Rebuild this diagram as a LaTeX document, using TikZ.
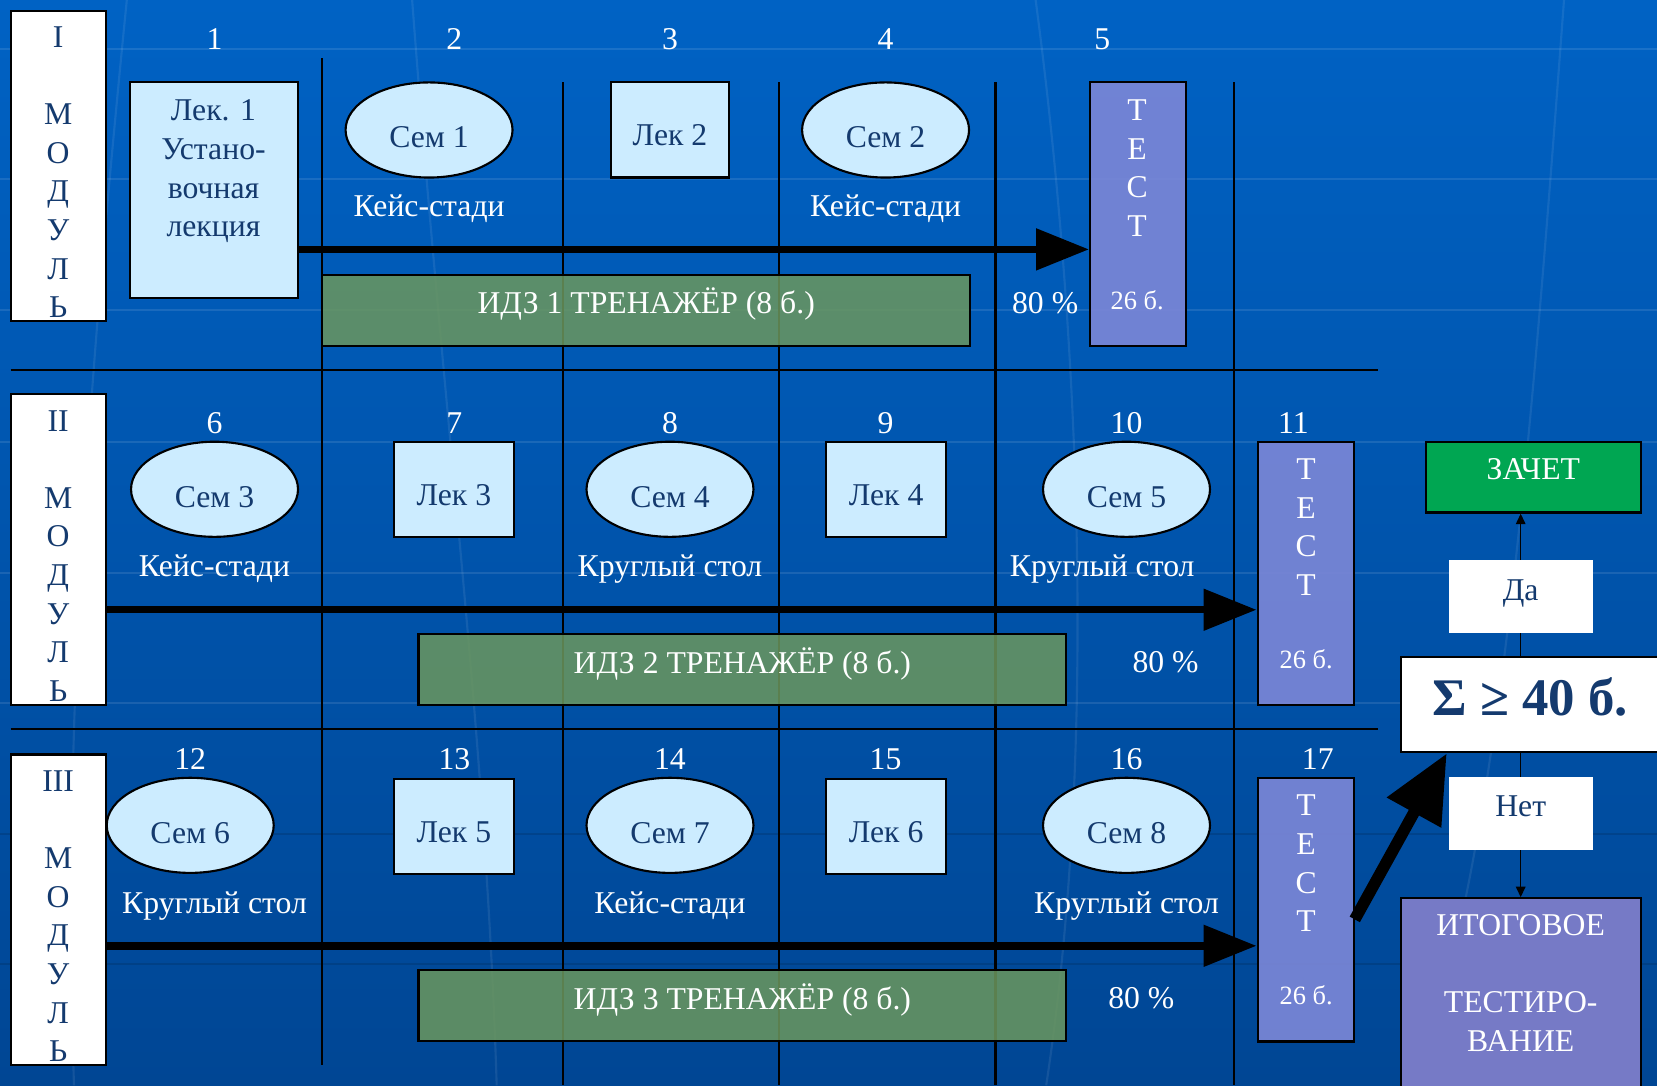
\documentclass[tikz,border=0pt]{standalone}
\usepackage{fontspec}
\setmainfont{Liberation Serif}
\usetikzlibrary{shapes.geometric,arrows.meta,calc}

\definecolor{bgtop}{RGB}{0,98,196}
\definecolor{bgbot}{RGB}{0,70,148}
\definecolor{lightbl}{RGB}{204,236,255}
\definecolor{dkblue}{RGB}{20,58,110}
\definecolor{testcol}{RGB}{122,134,214}
\definecolor{idzgreen}{RGB}{107,151,93}
\definecolor{zachgreen}{RGB}{0,166,82}
\definecolor{itogcol}{RGB}{118,122,198}

\tikzset{
  txt/.style={font=\fontsize{30}{36.5}\selectfont, inner sep=0, align=center},
  wtxt/.style={txt, text=white},
  dtxt/.style={txt, text=dkblue},
  kind/.style={wtxt, text height=20pt, text depth=2pt},
  small/.style={wtxt, font=\fontsize{25}{30}\selectfont},
  modbox/.style={draw=black, fill=white, line width=2, minimum width=90, minimum height=294, inner sep=0},
  lekbox/.style={draw=black, fill=lightbl, line width=2, inner sep=0, minimum width=113, minimum height=90,
    dtxt, text height=30pt, text depth=0pt},
  semell/.style={ellipse, draw=black, fill=lightbl, line width=2, inner sep=0, minimum width=158, minimum height=90,
    dtxt, text height=34pt, text depth=0pt},
  testbox/.style={draw=black, fill=testcol, fill opacity=0.92, line width=2, minimum width=91, minimum height=249, inner sep=0},
  idzbox/.style={draw=black, fill=idzgreen, fill opacity=0.85, text opacity=1, line width=2, minimum width=613, minimum height=67,
    wtxt, text height=13pt, text depth=6pt},
  whitebox/.style={fill=white, minimum width=136, minimum height=69, inner sep=0, dtxt, text height=7pt, text depth=0pt},
  sep/.style={draw=black, line width=2},
  bigarrow/.style={line width=7, -{Triangle[length=50pt,width=38pt]}},
  smallarrow/.style={line width=1.5, -{Triangle[length=10pt,width=9pt]}},
}

\begin{document}
\begin{tikzpicture}[x=1pt, y=-1pt]
\useasboundingbox (0,0) rectangle (1568,1027);
\fill [top color=bgtop, bottom color=bgbot] (0,0) rectangle (1568,1027);

\foreach \yy in {46,169,293,418,542,665}
  \draw [white, opacity=0.1, line width=2] (0,\yy) -- (1568,\yy);
\foreach \yy in {789,912}
  \draw [black, opacity=0.12, line width=2] (0,\yy) -- (1568,\yy);
\draw [white, opacity=0.08, line width=2] (120,0) .. controls (80,400) and (60,700) .. (70,1027);
\draw [white, opacity=0.08, line width=2] (390,0) .. controls (420,400) and (460,700) .. (470,1027);
\draw [white, opacity=0.08, line width=2] (980,0) .. controls (1020,300) and (1040,700) .. (990,1027);
\draw [white, opacity=0.08, line width=2] (1480,0) .. controls (1450,400) and (1420,800) .. (1340,1027);

\draw [sep] (305,55) -- (305,1008);
\draw [sep] (533,78) -- (533,1027);
\draw [sep] (737,78) -- (737,1027);
\draw [sep] (942,78) -- (942,1027);
\draw [sep] (1168,78) -- (1168,1027);
\draw [sep] (10,350) -- (1304,350);
\draw [sep] (10,690) -- (1304,690);

\node [modbox] (mod1) at (55,157) {};
\node [dtxt] (mod1t) at (55,163) {I\\\mbox{}\\М\\О\\Д\\У\\Л\\Ь};
\node [modbox] (mod2) at (55,520) {};
\node [dtxt] (mod2t) at (55,526) {II\\\mbox{}\\М\\О\\Д\\У\\Л\\Ь};
\node [modbox] (mod3) at (55,861) {};
\node [dtxt] (mod3t) at (55,867) {III\\\mbox{}\\М\\О\\Д\\У\\Л\\Ь};

\node [wtxt] (n1) at (203,37) {1};
\node [wtxt] (n2) at (430,37) {2};
\node [wtxt] (n3) at (634,37) {3};
\node [wtxt] (n4) at (838,37) {4};
\node [wtxt] (n5) at (1043,37) {5};
\node [wtxt] (n6) at (203,400) {6};
\node [wtxt] (n7) at (430,400) {7};
\node [wtxt] (n8) at (634,400) {8};
\node [wtxt] (n9) at (838,400) {9};
\node [wtxt] (n10) at (1066,400) {10};
\node [wtxt] (n11) at (1224,400) {11};
\node [wtxt] (n12) at (180,718) {12};
\node [wtxt] (n13) at (430,718) {13};
\node [wtxt] (n14) at (634,718) {14};
\node [wtxt] (n15) at (838,718) {15};
\node [wtxt] (n16) at (1066,718) {16};
\node [wtxt] (n17) at (1247,718) {17};

\node [lekbox, minimum width=159, minimum height=204] (lek1) at (202.5,180) {};
\node [dtxt, font=\fontsize{30}{36.8}\selectfont] (lek1t) at (202,162) {Лек. 1\\Устано-\\вочная\\лекция};
\node [semell] (sem1) at (406,123) {Сем 1};
\node [kind] (kind1) at (406,196) {Кейс-стади};
\node [lekbox, minimum width=112] (lek2) at (634,123) {Лек 2};
\node [semell] (sem2) at (838,123) {Сем 2};
\node [kind] (kind2) at (838,196) {Кейс-стади};
\node [testbox] (test1) at (1077,202.5) {};
\node [wtxt] (test1t) at (1076,159) {Т\\Е\\С\\Т};
\node [small] (test1s) at (1076,284) {26 б.};
\node [idzbox] (idz1) at (611.5,293.5) {ИДЗ 1 ТРЕНАЖЁР (8 б.)};
\node [wtxt] (pc1) at (989,287) {80 \%};
\coordinate (r1) at (0,236);
\draw [bigarrow] (lek1.east |- r1) -- (test1.west |- r1);

\node [semell] (sem3) at (203,463) {Сем 3};
\node [kind] (kind3) at (203,537) {Кейс-стади};
\node [lekbox] (lek3) at (429.5,463) {Лек 3};
\node [semell] (sem4) at (634,463) {Сем 4};
\node [kind] (kind4) at (634,537) {Круглый стол};
\node [lekbox] (lek4) at (838.5,463) {Лек 4};
\node [semell] (sem5) at (1066,463) {Сем 5};
\node [kind] (kind5) at (1043,537) {Круглый стол};
\node [testbox] (test2) at (1235.5,542.5) {};
\node [wtxt] (test2t) at (1236,499) {Т\\Е\\С\\Т};
\node [small] (test2s) at (1236,624) {26 б.};
\node [idzbox] (idz2) at (702.5,633.5) {ИДЗ 2 ТРЕНАЖЁР (8 б.)};
\node [wtxt] (pc2) at (1103,627) {80 \%};
\coordinate (r2) at (0,577);
\draw [bigarrow] (mod2.east |- r2) -- (test2.west |- r2);

\node [semell] (sem6) at (180,781) {Сем 6};
\node [kind] (kind6) at (203,855) {Круглый стол};
\node [lekbox] (lek5) at (429.5,782) {Лек 5};
\node [semell] (sem7) at (634,781) {Сем 7};
\node [kind] (kind7) at (634,855) {Кейс-стади};
\node [lekbox] (lek6) at (838.5,782) {Лек 6};
\node [semell] (sem8) at (1066,781) {Сем 8};
\node [kind] (kind8) at (1066,855) {Круглый стол};
\node [testbox] (test3) at (1235.5,861) {};
\node [wtxt] (test3t) at (1236,817) {Т\\Е\\С\\Т};
\node [small] (test3s) at (1236,942) {26 б.};
\node [idzbox] (idz3) at (702.5,951.5) {ИДЗ 3 ТРЕНАЖЁР (8 б.)};
\node [wtxt] (pc3) at (1080,945) {80 \%};
\coordinate (r3) at (0,895);
\draw [bigarrow] (mod3.east |- r3) -- (test3.west |- r3);

\node [draw=black, line width=2, fill=zachgreen, minimum width=204, minimum height=67, inner sep=0,
  wtxt, text height=5pt, text depth=0pt] (zachet) at (1451,451.5) {ЗАЧЕТ};
\node [draw=black, line width=2, fill=white, minimum width=244, minimum height=90, inner sep=0,
  text=dkblue, font=\fontsize{50}{60}\selectfont\bfseries, text height=21pt, text depth=0pt] (sum) at (1448,667) {Σ ≥ 40 б.};
\node [draw=black, line width=2, fill=itogcol, minimum width=227, minimum height=185, inner sep=0] (itog) at (1439.5,942.5) {};
\node [wtxt] (itogt) at (1439,930) {ИТОГОВОЕ\\\mbox{}\\ТЕСТИРО-\\ВАНИЕ};
\draw [smallarrow] (sum.north -| 1439,0) -- (zachet.south -| 1439,0);
\draw [smallarrow] (sum.south -| 1439,0) -- (itog.north -| 1439,0);
\node [whitebox] (da) at (1439,564.5) {Да};
\node [whitebox, text height=6pt] (net) at (1439,770) {Нет};
\draw [line width=11, -{Triangle[length=64pt,width=56pt]}] ($(test3.east)+(0,9)$) -- ($(sum.south west)+(44,0)$);
\end{tikzpicture}
\end{document}
